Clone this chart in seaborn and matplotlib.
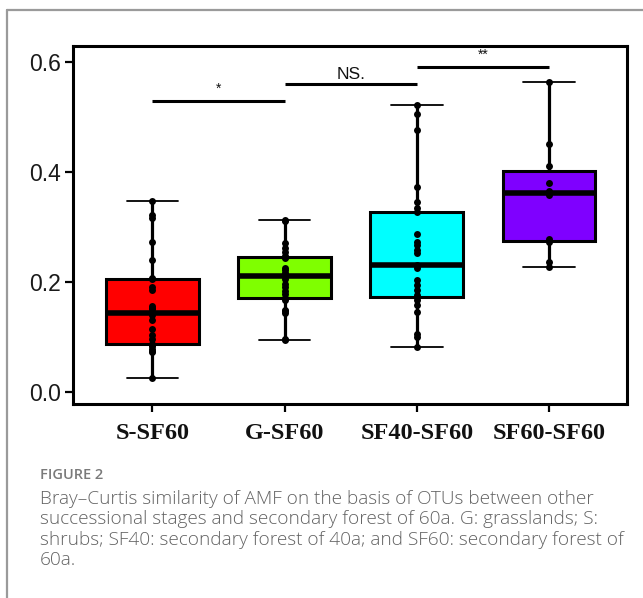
import numpy as np
import pandas as pd
import matplotlib
matplotlib.use("Agg")
import matplotlib.pyplot as plt
from matplotlib.lines import Line2D
import seaborn as sns

# ---------------- data ----------------
categories = ["S-SF60", "G-SF60", "SF40-SF60", "SF60-SF60"]
colors = ["#FF0000", "#7FFF00", "#00FFFF", "#7F00FF"]

s_sf60 = [0.026, 0.072, 0.075, 0.078, 0.083, 0.086, 0.088, 0.096, 0.103, 0.115,
          0.130, 0.140, 0.144, 0.150, 0.153, 0.157, 0.185, 0.190, 0.205, 0.207,
          0.239, 0.273, 0.317, 0.321, 0.348]
g_sf60 = [0.094, 0.096, 0.143, 0.147, 0.149, 0.168, 0.171, 0.178, 0.184, 0.190,
          0.197, 0.205, 0.211, 0.214, 0.217, 0.222, 0.226, 0.243, 0.245, 0.247,
          0.255, 0.262, 0.270, 0.310, 0.313]
sf40_sf60 = [0.082, 0.100, 0.106, 0.145, 0.158, 0.167, 0.172, 0.176, 0.185, 0.194,
             0.203, 0.225, 0.231, 0.252, 0.258, 0.267, 0.273, 0.288, 0.327, 0.335,
             0.345, 0.373, 0.476, 0.506, 0.522]
sf60_sf60 = [0.227, 0.236, 0.272, 0.278, 0.358, 0.366, 0.380, 0.410, 0.451, 0.563]

# significance annotations: (left category index, right category index), bar height, label
sig_pairs = [(0, 1), (1, 2), (2, 3)]
sig_heights = [0.529, 0.559, 0.590]
sig_labels = ["*", "NS.", "**"]

yticks = [0.0, 0.2, 0.4, 0.6]

caption_title = "FIGURE 2"
caption_lines = [
    "Bray\u2013Curtis similarity of AMF on the basis of OTUs between other",
    "successional stages and secondary forest of 60a. G: grasslands; S:",
    "shrubs; SF40: secondary forest of 40a; and SF60: secondary forest of",
    "60a.",
]

# ---------------- build frame ----------------
series = [s_sf60, g_sf60, sf40_sf60, sf60_sf60]
df = pd.DataFrame({
    "group": np.concatenate([[c] * len(v) for c, v in zip(categories, series)]),
    "value": np.concatenate(series),
})

sns.set_style("white")
plt.rcParams["font.family"] = ["Liberation Sans", "DejaVu Sans"]

W, H = 643, 598
fig = plt.figure(figsize=(W / 100, H / 100), dpi=100)
ax = fig.add_axes([73 / W, 1 - 404 / H, (627 - 73) / W, (404 - 46) / H])

box_w = 0.7
sns.boxplot(
    data=df, x="group", y="value", order=categories, hue="group",
    hue_order=categories, palette=colors, legend=False, ax=ax,
    width=box_w, whis=1.5, showfliers=False, saturation=1,
    boxprops=dict(edgecolor="black", linewidth=2.2),
    whiskerprops=dict(color="black", linewidth=2.3),
    capprops=dict(color="black", linewidth=1.3),
    medianprops=dict(color="black", linewidth=4.0),
)

# adjust cap lengths (narrower than box)
cap_half = 0.195
for ln in ax.lines:
    xd = np.asarray(ln.get_xdata(), dtype=float)
    yd = np.asarray(ln.get_ydata(), dtype=float)
    if len(xd) == 2 and yd[0] == yd[1] and abs(ln.get_linewidth() - 1.3) < 1e-6:
        c = xd.mean()
        ln.set_xdata([c - cap_half, c + cap_half])

sns.stripplot(
    data=df, x="group", y="value", order=categories, jitter=False,
    color="black", size=5.0, ax=ax, zorder=5, linewidth=0,
)

# significance bars
for (i, j), h, lab in zip(sig_pairs, sig_heights, sig_labels):
    ax.plot([i, j], [h, h], color="black", lw=2.2, solid_capstyle="butt",
            clip_on=False, zorder=6)
    if lab == "NS.":
        ax.text((i + j) / 2, h + 0.005, lab, ha="center", va="bottom",
                fontsize=12.5, color="#111111")
    else:
        ax.text((i + j) / 2, h + 0.010, lab, ha="center", va="bottom",
                fontsize=10, color="#111111")

ax.set_xlim(-0.6, 3.59)
ax.set_ylim(-0.022, 0.629)
ax.set_yticks(yticks)
ax.set_yticklabels([f"{t:.1f}" for t in yticks])
ax.set_xlabel("")
ax.set_ylabel("")

for sp in ax.spines.values():
    sp.set_visible(True)
    sp.set_color("black")
    sp.set_linewidth(2.2)

ax.tick_params(axis="both", direction="out", length=5.5, width=1.6,
               color="black", bottom=True, left=True)
ax.tick_params(axis="y", labelsize=16.5, pad=3, labelcolor="#1a1a1a")
ax.tick_params(axis="x", pad=8)
for lab in ax.get_xticklabels():
    lab.set_fontfamily(["Liberation Serif", "DejaVu Serif"])
    lab.set_fontweight("bold")
    lab.set_fontsize(17.5)
    lab.set_color("#111111")

# outer gray frame (partially cropped)
fig.add_artist(Line2D([7 / W, 1.0], [1 - 10 / H, 1 - 10 / H],
                      transform=fig.transFigure, color="#9a9a9a", lw=1.6))
fig.add_artist(Line2D([7 / W, 7 / W], [1 - 10 / H, 0.0],
                      transform=fig.transFigure, color="#9a9a9a", lw=1.6))

# caption
fig.text(40 / W, 1 - 475 / H, caption_title, ha="left", va="center",
         fontsize=10.5, color="#7a7a7a", fontweight="semibold",
         family=["Open Sans", "DejaVu Sans"])
for k, line in enumerate(caption_lines):
    fig.text(40 / W, 1 - (499 + 20.4 * k) / H, line, ha="left", va="center",
             fontsize=13.7, color="#636363", fontweight="light",
             family=["Open Sans", "DejaVu Sans"])

fig.savefig("out.png", dpi=100, facecolor="white")
